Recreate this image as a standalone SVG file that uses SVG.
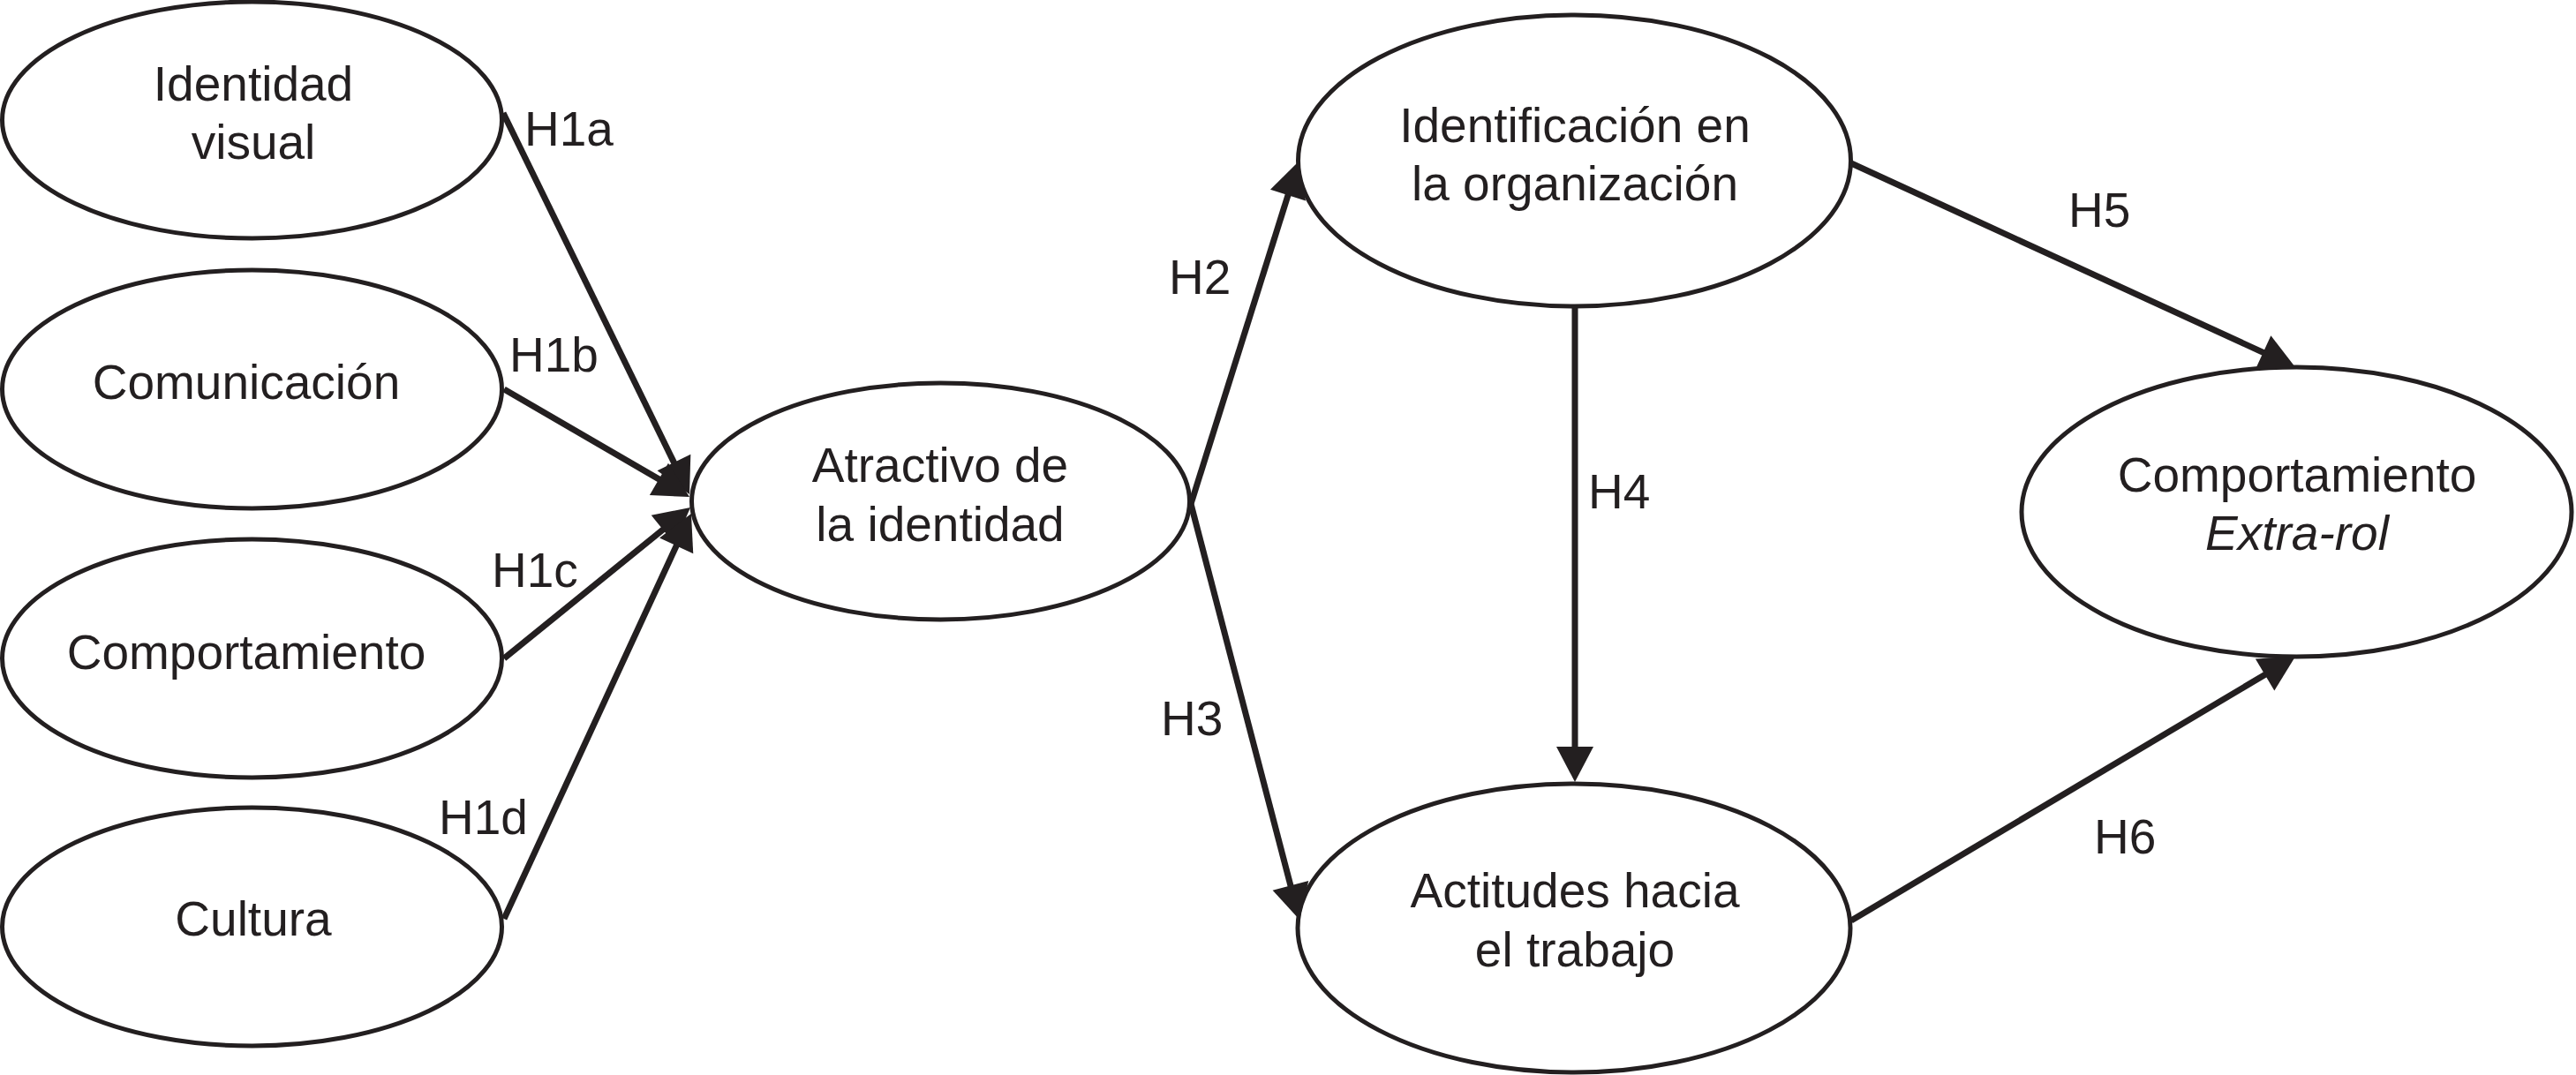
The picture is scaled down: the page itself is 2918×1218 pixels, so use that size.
<svg xmlns="http://www.w3.org/2000/svg" width="2918" height="1218" viewBox="0 0 2918 1218">
<style>
.node ellipse{fill:#ffffff;stroke:#231f20;stroke-width:5}
.t{font-family:"Liberation Sans",Arial,Helvetica,sans-serif;font-size:55px;fill:#231f20;text-anchor:middle}
.lbl{font-family:"Liberation Sans",Arial,Helvetica,sans-serif;font-size:55px;fill:#231f20}
.edge{stroke:#231f20;stroke-width:7;fill:none;marker-end:url(#arr)}
</style>
<defs>
<marker id="arr" markerUnits="userSpaceOnUse" markerWidth="44" markerHeight="44" refX="32" refY="21" orient="auto" overflow="visible">
<path d="M0,0 L40,21 L0,42 Z" fill="#231f20"/>
</marker>
</defs>
<rect width="2918" height="1218" fill="#ffffff"/>
<g id="n-identidad-visual" class="node">
<ellipse cx="285.5" cy="136" rx="283" ry="134"/>
<text class="t" x="287" y="114">Identidad</text>
<text class="t" x="287" y="180">visual</text>
</g>
<g id="n-comunicacion" class="node">
<ellipse cx="285.5" cy="441" rx="283" ry="135"/>
<text class="t" x="279" y="452">Comunicación</text>
</g>
<g id="n-comportamiento" class="node">
<ellipse cx="285.5" cy="746" rx="283" ry="135"/>
<text class="t" x="279" y="758">Comportamiento</text>
</g>
<g id="n-cultura" class="node">
<ellipse cx="285.5" cy="1050" rx="283" ry="135"/>
<text class="t" x="287" y="1060">Cultura</text>
</g>
<g id="n-atractivo" class="node">
<ellipse cx="1065.5" cy="568" rx="282" ry="134"/>
<text class="t" x="1065" y="546">Atractivo de</text>
<text class="t" x="1065" y="613">la identidad</text>
</g>
<g id="n-identificacion" class="node">
<ellipse cx="1783.5" cy="182" rx="313" ry="165"/>
<text class="t" x="1784" y="161">Identificación en</text>
<text class="t" x="1784" y="227">la organización</text>
</g>
<g id="n-actitudes" class="node">
<ellipse cx="1783" cy="1051.5" rx="313" ry="163.5"/>
<text class="t" x="1784" y="1028">Actitudes hacia</text>
<text class="t" x="1784" y="1095">el trabajo</text>
</g>
<g id="n-extrarol" class="node">
<ellipse cx="2601.5" cy="580" rx="311.5" ry="164"/>
<text class="t" x="2602" y="557">Comportamiento</text>
<text class="t" x="2602" y="623" font-style="italic">Extra-rol</text>
</g>
<g id="connectors">
<line class="edge" x1="570" y1="128" x2="777.5" y2="552.8"/>
<line class="edge" x1="571" y1="441" x2="774.1" y2="559"/>
<line class="edge" x1="571" y1="746" x2="775.8" y2="580"/>
<line class="edge" x1="571" y1="1041" x2="779.6" y2="589.3"/>
<line class="edge" x1="1349" y1="571" x2="1468.6" y2="190.6"/>
<line class="edge" x1="1349" y1="571" x2="1470" y2="1034.3"/>
<line class="edge" x1="1784" y1="347" x2="1784" y2="878"/>
<line class="edge" x1="2097" y1="185" x2="2592.7" y2="412.7"/>
<line class="edge" x1="2097" y1="1043" x2="2593.1" y2="748.1"/>
<text class="lbl" x="594" y="165">H1a</text>
<text class="lbl" x="577" y="421">H1b</text>
<text class="lbl" x="557" y="665">H1c</text>
<text class="lbl" x="497" y="945">H1d</text>
<text class="lbl" x="1324" y="333">H2</text>
<text class="lbl" x="1315" y="833">H3</text>
<text class="lbl" x="1799" y="576">H4</text>
<text class="lbl" x="2343" y="257">H5</text>
<text class="lbl" x="2372" y="967">H6</text>
</g>
</svg>
